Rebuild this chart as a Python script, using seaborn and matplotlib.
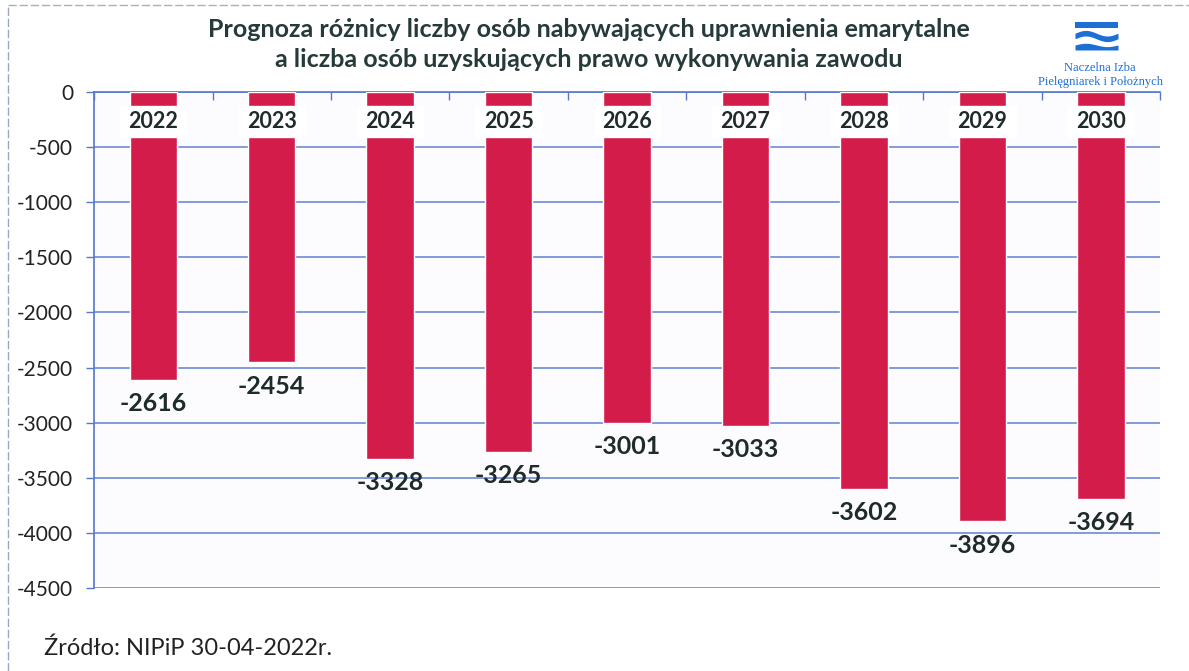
#!/usr/bin/env python3
"""Prognoza różnicy: uprawnienia emerytalne vs. nowe prawa wykonywania zawodu (NIPiP)."""

import matplotlib

matplotlib.use("Agg")
import matplotlib.pyplot as plt
import numpy as np
import pandas as pd
import seaborn as sns
from matplotlib.lines import Line2D

years = ["2022", "2023", "2024", "2025", "2026", "2027", "2028", "2029", "2030"]
differences = [-2616, -2454, -3328, -3265, -3001, -3033, -3602, -3896, -3694]
y_ticks = [0, -500, -1000, -1500, -2000, -2500, -3000, -3500, -4000, -4500]

title_lines = [
    "Prognoza różnicy liczby osób nabywających uprawnienia emarytalne",
    "a liczba osób uzyskujących prawo wykonywania zawodu",
]
source_text = "Źródło: NIPiP 30-04-2022r."
logo_text = "Naczelna Izba\nPielęgniarek i Położnych"

BAR_COLOR = "#d41c4b"
GRID_COLOR = "#5577cc"
TEXT_DARK = "#1f2b2b"
LOGO_BLUE = "#1d6fd6"


def main() -> None:
    sns.set_theme(style="white")
    plt.rcParams["font.family"] = ["Lato", "DejaVu Sans"]

    df = pd.DataFrame({"year": years, "value": differences})

    fig = plt.figure(figsize=(11.89, 6.71), dpi=100)
    ax = fig.add_axes([0.0791, 0.1237, 0.8966, 0.7392])
    ax.set_facecolor("#fcfcfe")

    sns.barplot(data=df, x="year", y="value", order=years, color=BAR_COLOR,
                saturation=1, width=0.4, ax=ax, zorder=3)

    # white gap across the top of each bar where the year label sits
    ax.bar(np.arange(len(years)), -280, bottom=-126, width=0.56, color="white", zorder=4)
    for i, year in enumerate(years):
        ax.text(i, -268, year, ha="center", va="center", fontsize=15.5,
                fontweight="bold", color=TEXT_DARK, zorder=5)

    for i, value in enumerate(differences):
        ax.text(i, value - 110, f"{value}", ha="center", va="top", fontsize=18,
                fontweight="bold", color=TEXT_DARK, zorder=5)

    ax.set_xlim(-0.5, len(years) - 0.5)
    ax.set_ylim(-4500, 0)
    ax.set_yticks(y_ticks)
    ax.set_yticklabels([str(t) for t in y_ticks], fontsize=15, color="#222222")
    ax.tick_params(axis="y", left=True, length=6, width=1, color=GRID_COLOR, pad=9)

    # category boundary ticks hanging from the zero line
    ax.xaxis.tick_top()
    ax.set_xticks(np.arange(-0.5, len(years), 1.0))
    ax.set_xticklabels([])
    ax.tick_params(axis="x", top=True, direction="in", length=6, width=1, color=GRID_COLOR)
    ax.set_xlabel("")
    ax.set_ylabel("")

    ax.grid(axis="y", color=GRID_COLOR, linewidth=1.2, alpha=0.85, zorder=1)
    ax.set_axisbelow(True)
    for side in ["right", "bottom"]:
        ax.spines[side].set_visible(False)
    ax.spines["top"].set_color(GRID_COLOR)
    ax.spines["top"].set_linewidth(1.2)
    ax.spines["left"].set_color(GRID_COLOR)
    ax.spines["left"].set_linewidth(1.2)

    fig.text(0.495, 0.956, title_lines[0], ha="center", va="center", fontsize=18,
             fontweight="bold", color="#263a3a")
    fig.text(0.495, 0.911, title_lines[1], ha="center", va="center", fontsize=18,
             fontweight="bold", color="#263a3a")

    fig.text(0.037, 0.034, source_text, ha="left", va="center", fontsize=17, color="#222222")

    # logo mark
    lax = fig.add_axes([1075 / 1189, 1 - 50 / 671, 43 / 1189, 28 / 671])
    lax.set_xlim(0, 1)
    lax.set_ylim(0, 1)
    lax.axis("off")
    xs = np.linspace(0, 1, 100)
    lax.fill_between(xs, 0.8, 1.0, color=LOGO_BLUE, linewidth=0)
    wave = 0.5 + 0.1 * np.sin(xs * 2 * np.pi)
    lax.fill_between(xs, wave - 0.1, wave + 0.1, color=LOGO_BLUE, linewidth=0)
    lax.fill_between(xs, 0.0, 0.18 + 0.06 * np.sin(xs * 2 * np.pi), color=LOGO_BLUE, linewidth=0)
    fig.text(1100 / 1189, 1 - 75 / 671, logo_text, ha="center", va="center", fontsize=9,
             family="Liberation Serif", color=LOGO_BLUE, linespacing=1.25)

    # faint scan border
    fig.add_artist(Line2D([8 / 1189, 1.0], [1 - 5 / 671, 1 - 5 / 671], transform=fig.transFigure,
                          color="#aab0c0", linewidth=1, linestyle=(0, (6, 2))))
    fig.add_artist(Line2D([8 / 1189, 8 / 1189], [0.0, 1 - 5 / 671], transform=fig.transFigure,
                          color="#9aa6c8", linewidth=1, linestyle=(0, (6, 2))))

    fig.savefig("out.png", dpi=100)
    plt.close(fig)


if __name__ == "__main__":
    main()
